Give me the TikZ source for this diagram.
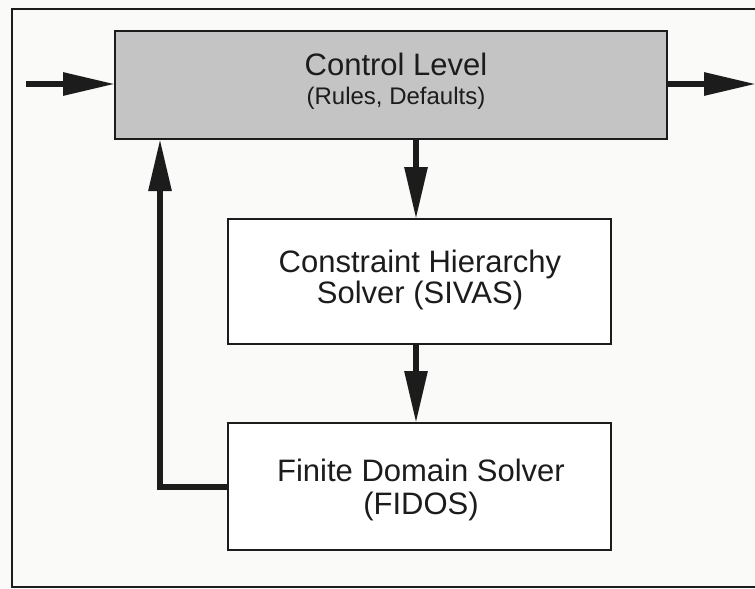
\documentclass[tikz,border=0pt]{standalone}
\usepackage{fontspec}
\setmainfont{Liberation Sans}
\usetikzlibrary{arrows.meta}
\definecolor{ink}{RGB}{28,28,28}
\definecolor{dotfill}{RGB}{196,196,196}
\definecolor{paper}{RGB}{250,250,248}
\tikzset{
  boxshape/.style={draw=ink, line width=2pt, rectangle, inner sep=0pt, outer sep=0pt},
  bigtext/.style={text=ink, inner sep=0pt, anchor=base, font=\fontsize{31}{31}\selectfont},
  smalltext/.style={text=ink, inner sep=0pt, anchor=base, font=\fontsize{24}{24}\selectfont},
  arr/.style={draw=ink, line width=6pt, -{Triangle[length=52pt,width=22pt]}},
  framel/.style={draw=ink, line width=2pt}
}
\begin{document}
\begin{tikzpicture}[x=1pt,y=-1pt]
\useasboundingbox (0,0) rectangle (755,589);
\fill[paper] (0,0) rectangle (755,589);
% outer frame
\coordinate (f1) at (780,9);
\coordinate (f2) at (12,9);
\coordinate (f3) at (12,587);
\coordinate (f4) at (780,587);
\draw[framel] (f1) -- (f2) -- (f3) -- (f4);
% boxes
\node[boxshape, fill=dotfill, minimum width=552, minimum height=108] (ctl) at (391,85) {};
\node[boxshape, fill=white, minimum width=383, minimum height=125] (chs) at (419.5,281.5) {};
\node[boxshape, fill=white, minimum width=383, minimum height=127] (fid) at (419.5,486.5) {};
% texts
\node[bigtext] (ctlA) at (396,75) {Control Level};
\node[smalltext] (ctlB) at (396,104) {(Rules, Defaults)};
\node[bigtext] (chsA) at (420,272) {Constraint Hierarchy};
\node[bigtext] (chsB) at (420,303) {Solver (SIVAS)};
\node[bigtext] (fidA) at (421,481) {Finite Domain Solver};
\node[bigtext] (fidB) at (421,514) {(FIDOS)};
% helper coordinates
\coordinate (inL) at (26,84);
\coordinate (outR) at (756,84);
\coordinate (dx) at (416,0);
\coordinate (fb) at (160,0);
% connectors
\draw[arr] (inL) -- (inL -| ctl.west);
\draw[arr] (ctl.east |- outR) -- (outR);
\draw[arr] (ctl.south -| dx) -- (chs.north -| dx);
\draw[arr] (chs.south -| dx) -- (fid.north -| dx);
\draw[arr, miter limit=10] (fid.west) -| (ctl.south -| fb);
\end{tikzpicture}
\end{document}
